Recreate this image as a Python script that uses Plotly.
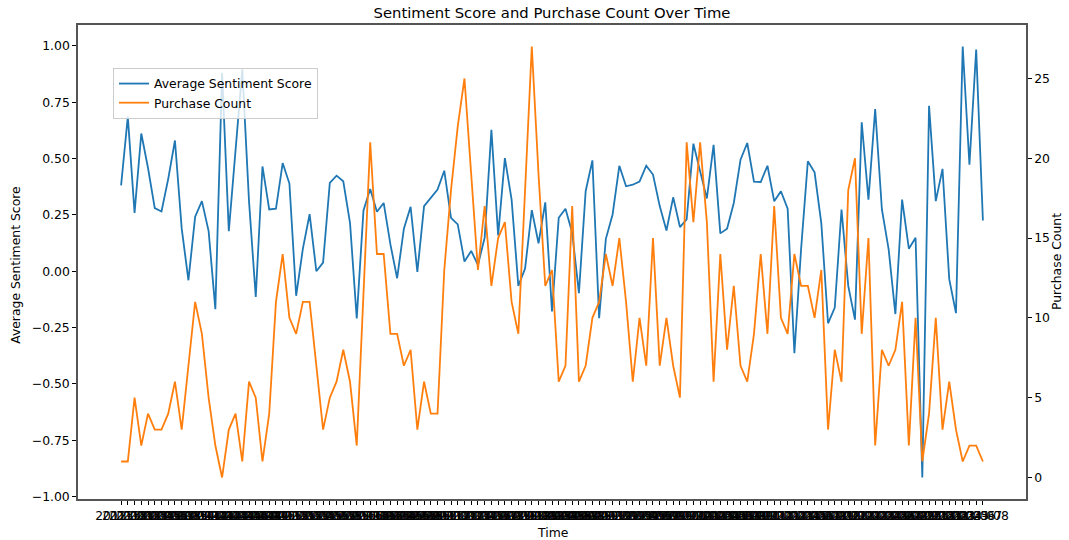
import pandas as pd
import plotly.graph_objects as go

# ---- data ----
time_labels = [p.strftime("%Y-%m") for p in pd.period_range("2012-12", "2023-08", freq="M")]

sentiment = [
    0.381, 0.686, 0.259, 0.611, 0.458, 0.280, 0.265, 0.410, 0.580, 0.190,
    -0.040, 0.242, 0.311, 0.178, -0.168, 0.880, 0.178, 0.540, 0.896, 0.310,
    -0.114, 0.465, 0.274, 0.278, 0.480, 0.389, -0.109, 0.100, 0.253, 0.000,
    0.038, 0.392, 0.424, 0.399, 0.215, -0.209, 0.270, 0.365, 0.264, 0.303,
    0.119, -0.031, 0.189, 0.286, -0.003, 0.289, 0.326, 0.362, 0.446, 0.237,
    0.208, 0.043, 0.090, 0.028, 0.149, 0.627, 0.159, 0.502, 0.318, -0.065,
    0.012, 0.271, 0.124, 0.306, -0.178, 0.237, 0.277, 0.171, -0.097, 0.355,
    0.492, -0.208, 0.144, 0.252, 0.468, 0.377, 0.384, 0.398, 0.468, 0.429,
    0.289, 0.181, 0.328, 0.196, 0.230, 0.566, 0.443, 0.323, 0.561, 0.168,
    0.189, 0.303, 0.495, 0.569, 0.398, 0.396, 0.468, 0.311, 0.355, 0.278,
    -0.364, 0.100, 0.488, 0.439, 0.212, -0.231, -0.161, 0.274, -0.065, -0.215,
    0.661, 0.318, 0.720, 0.274, 0.097, -0.190, 0.318, 0.100, 0.149, -0.915,
    0.734, 0.311, 0.454, -0.035, -0.186, 0.997, 0.473, 0.984, 0.225,
]

purchases = [
    1, 1, 5, 2, 4, 3, 3, 4, 6, 3,
    7, 11, 9, 5, 2, 0, 3, 4, 1, 6,
    5, 1, 4, 11, 14, 10, 9, 11, 11, 7,
    3, 5, 6, 8, 6, 2, 12, 21, 14, 14,
    9, 9, 7, 8, 3, 6, 4, 4, 13, 18,
    22, 25, 19, 13, 17, 12, 15, 16, 11, 9,
    18, 27, 19, 12, 13, 6, 7, 17, 6, 7,
    10, 11, 14, 12, 15, 11, 6, 10, 7, 15,
    7, 10, 7, 5, 21, 16, 21, 16, 6, 14,
    8, 12, 7, 6, 9, 14, 9, 17, 10, 9,
    14, 12, 12, 10, 13, 3, 8, 6, 18, 20,
    9, 15, 2, 8, 7, 8, 11, 2, 10, 1,
    4, 10, 3, 6, 3, 1, 2, 2, 1,
]

left_ticks = [-1.0, -0.75, -0.5, -0.25, 0.0, 0.25, 0.5, 0.75, 1.0]
right_ticks = [0, 5, 10, 15, 20, 25]

# ---- figure ----
FONT = "DejaVu Sans"
FS = 12.4
BLUE = "#1f77b4"
ORANGE = "#ff7f0e"
FRAME = "#555555"

fig = go.Figure()
fig.add_trace(go.Scatter(
    x=time_labels, y=sentiment, mode="lines", name="Average Sentiment Score",
    line=dict(color=BLUE, width=1.8), yaxis="y",
))
fig.add_trace(go.Scatter(
    x=time_labels, y=purchases, mode="lines", name="Purchase Count",
    line=dict(color=ORANGE, width=1.8), yaxis="y2",
))

n = len(time_labels)
pad = 0.05 * (n - 1)

smin, smax = min(sentiment), max(sentiment)
sp = 0.05 * (smax - smin)
pmin, pmax = min(purchases), max(purchases)
pp = 0.05 * (pmax - pmin)

axis_common = dict(
    showgrid=False, zeroline=False, showline=True, linecolor=FRAME, linewidth=1.5,
    ticks="outside", ticklen=4, tickwidth=1, tickcolor="#000000",
    tickfont=dict(family=FONT, size=FS, color="#000000"), automargin=False,
)

fig.update_layout(
    template="none",
    width=1069, height=540,
    margin=dict(l=78, r=43, t=25, b=41, pad=0),
    paper_bgcolor="white", plot_bgcolor="white",
    font=dict(family=FONT, size=FS, color="#000000"),
    title=dict(
        text="Sentiment Score and Purchase Count Over Time",
        font=dict(family=FONT, size=14.8, color="#000000"),
        x=0.5, xref="paper", xanchor="center",
        y=1 - 12.5 / 540, yref="container", yanchor="middle",
    ),
    xaxis=dict(
        type="category", range=[-pad, n - 1 + pad],
        tickmode="array", tickvals=time_labels, ticktext=time_labels,
        tickangle=0, mirror=True, **axis_common,
    ),
    yaxis=dict(
        range=[smin - sp, smax + sp],
        tickmode="array", tickvals=left_ticks,
        ticktext=[f"{v:.2f}".replace("-", "\u2212") for v in left_ticks],
        **axis_common,
    ),
    yaxis2=dict(
        overlaying="y", side="right", range=[pmin - pp, pmax + pp],
        tickmode="array", tickvals=right_ticks,
        ticktext=[str(v) for v in right_ticks],
        **axis_common,
    ),
    showlegend=True,
    legend=dict(
        x=(113 - 78) / 948, y=(499 - 68) / 474, xanchor="left", yanchor="top",
        xref="paper", yref="paper",
        bgcolor="rgba(255,255,255,0.8)", bordercolor="#cccccc", borderwidth=1,
        font=dict(family=FONT, size=FS, color="#000000"),
        tracegroupgap=0, itemwidth=30,
    ),
    annotations=[
        dict(text="Average Sentiment Score", xref="paper", yref="paper",
             x=(16 - 78) / 948, y=0.494, xanchor="center", yanchor="middle",
             textangle=-90, showarrow=False, font=dict(family=FONT, size=FS, color="#000000")),
        dict(text="Purchase Count", xref="paper", yref="paper",
             x=(1056 - 78) / 948, y=0.5, xanchor="center", yanchor="middle",
             textangle=-90, showarrow=False, font=dict(family=FONT, size=FS, color="#000000")),
        dict(text="Time", xref="paper", yref="paper",
             x=0.5, y=(499 - 532) / 474, xanchor="center", yanchor="middle",
             showarrow=False, font=dict(family=FONT, size=FS, color="#000000")),
    ],
)

fig.write_html(
    "out.html",
    config={"displayModeBar": False},
    post_script="document.body.style.margin='0';document.body.style.padding='0';",
)
